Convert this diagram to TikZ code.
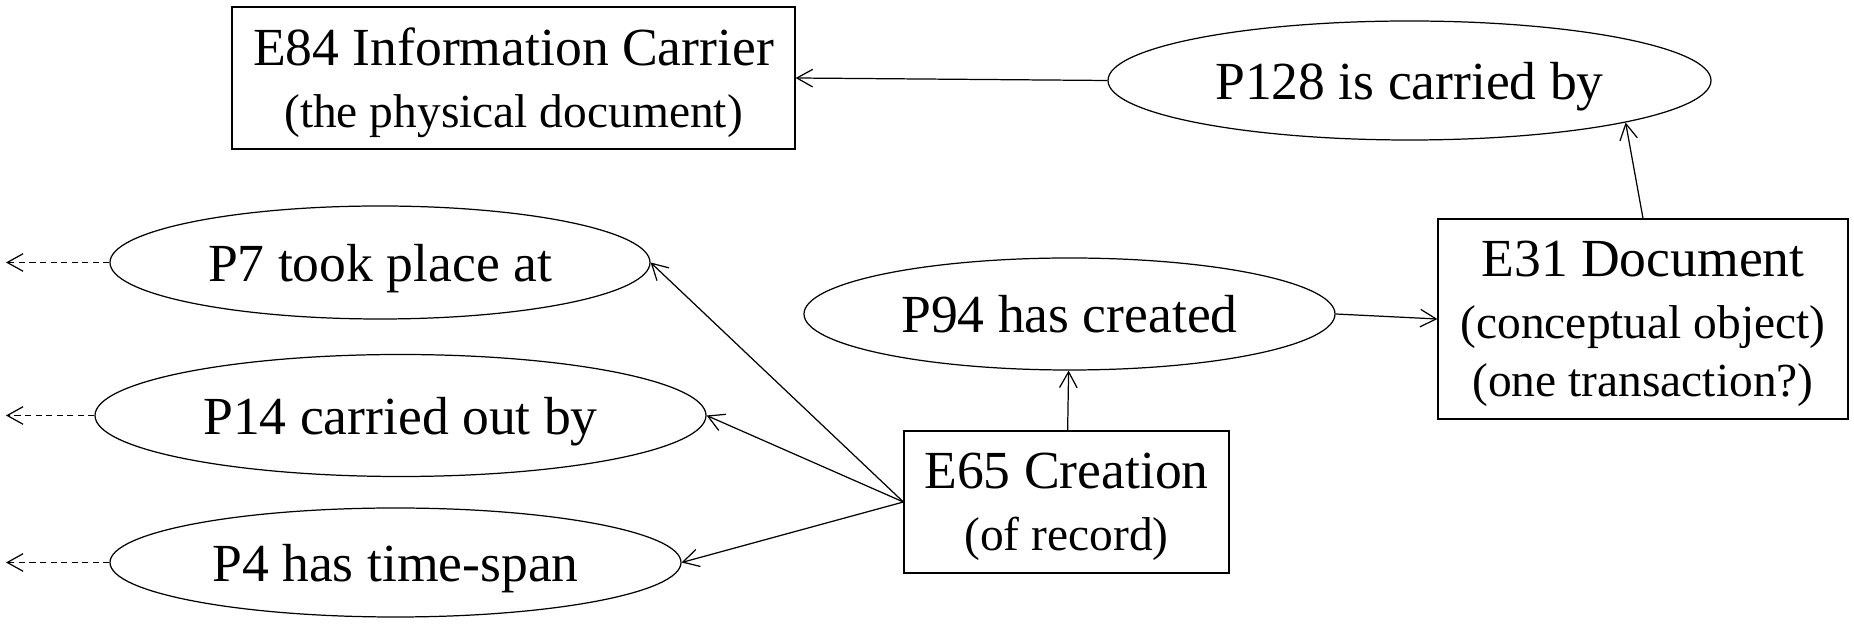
\documentclass[tikz,border=0pt]{standalone}
\usepackage{fontspec}
\setmainfont{Liberation Serif}
\usetikzlibrary{arrows.meta,shapes.geometric}
\newcommand{\bigtxt}{\fontsize{30.5}{33}\selectfont}
\newcommand{\smalltxt}{\fontsize{27}{30.6}\selectfont}
\tikzset{
	entity/.style={draw, rectangle, inner sep=0pt, text depth=0pt, align=center, font=\bigtxt},
	property/.style={draw, ellipse, inner sep=0pt, text depth=0pt, font=\bigtxt},
	>={Straight Barb[length=9pt,width=10pt]}
}
\begin{document}
\begin{tikzpicture}[line width=0.7pt]
\useasboundingbox (0,0) rectangle (37.08,12.56);
\node[entity, minimum width=11.26cm, minimum height=2.84cm] (e84) at (10.27,11.0) {E84 Information Carrier\\[2.3pt] \smalltxt (the physical document)};
\node[property, minimum width=12.06cm, minimum height=2.38cm] (p128) at (28.19,10.95) {P128 is carried by};
\node[entity, minimum width=8.2cm, minimum height=4.0cm] (e31) at (32.86,6.18) {E31 Document\\[2.3pt] \smalltxt (conceptual object)\\ \smalltxt (one transaction?)};
\node[property, minimum width=10.62cm, minimum height=2.24cm] (p94) at (21.39,6.28) {P94 has created};
\node[entity, minimum width=6.5cm, minimum height=2.84cm] (e65) at (21.33,2.52) {E65 Creation\\[2.3pt] \smalltxt (of record)};
\node[property, minimum width=10.8cm, minimum height=2.26cm] (p7) at (7.6,7.31) {P7 took place at};
\node[property, minimum width=12.22cm, minimum height=2.44cm] (p14) at (8.01,4.25) {P14 carried out by};
\node[property, minimum width=11.42cm, minimum height=2.18cm] (p4) at (7.91,1.31) {P4 has time-span};
\coordinate (margin) at (0.12,0);
\draw[->] (p128.west) -- (e84.east);
\draw[->] (e31.north) -- (p128.-11);
\draw[->] (p94.east) -- (e31.west);
\draw[->] (e65) -- (p94);
\foreach \p in {p7,p14,p4}
{
	\draw[->] (e65.west) -- (\p.east);
	\draw[->, dash pattern=on 3.5pt off 2.5pt] (\p.west) -- (\p.west -| margin);
}
\end{tikzpicture}
\end{document}
